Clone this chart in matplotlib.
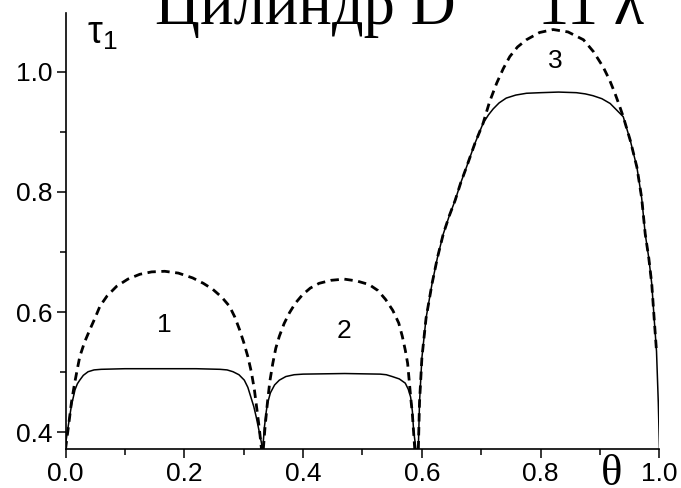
import matplotlib
matplotlib.use("Agg")
import matplotlib.pyplot as plt
from matplotlib.ticker import MultipleLocator

plt.rcParams['font.family'] = ['Liberation Sans', 'DejaVu Sans']

# dashed curves (theta, tau_1)
dash1_t = [0.0, 0.003, 0.006, 0.010, 0.015, 0.020, 0.024, 0.032, 0.041, 0.050,
           0.058, 0.070, 0.086, 0.105, 0.125, 0.145, 0.167, 0.190, 0.214, 0.232,
           0.248, 0.263, 0.276, 0.285, 0.293, 0.300, 0.307, 0.313, 0.318, 0.322,
           0.326, 0.330]
dash1_v = [0.372, 0.395, 0.418, 0.450, 0.480, 0.506, 0.526, 0.550, 0.571, 0.591,
           0.610, 0.627, 0.643, 0.655, 0.663, 0.667, 0.668, 0.665, 0.657, 0.648,
           0.638, 0.625, 0.610, 0.592, 0.571, 0.550, 0.526, 0.500, 0.471, 0.440,
           0.409, 0.372]

dash2_t = [0.333, 0.336, 0.340, 0.344, 0.349, 0.354, 0.360, 0.368, 0.377, 0.387,
           0.399, 0.412, 0.427, 0.447, 0.469, 0.490, 0.511, 0.526, 0.539, 0.551,
           0.561, 0.567, 0.572, 0.576, 0.578, 0.581, 0.584, 0.588]
dash2_v = [0.372, 0.410, 0.450, 0.485, 0.515, 0.540, 0.560, 0.581, 0.599, 0.615,
           0.629, 0.640, 0.648, 0.653, 0.655, 0.652, 0.646, 0.636, 0.621, 0.603,
           0.582, 0.560, 0.537, 0.515, 0.493, 0.460, 0.430, 0.372]

dash3_t = [0.594, 0.596, 0.600, 0.607, 0.617, 0.626, 0.636, 0.646, 0.656, 0.665,
           0.675, 0.689, 0.703, 0.714, 0.726, 0.737, 0.748, 0.761, 0.776, 0.798,
           0.821, 0.846, 0.872, 0.889, 0.905, 0.916, 0.925, 0.932, 0.939, 0.951,
           0.962, 0.970, 0.976, 0.982, 0.987, 0.991, 0.995]
dash3_v = [0.372, 0.450, 0.524, 0.590, 0.647, 0.690, 0.730, 0.760, 0.786, 0.814,
           0.841, 0.880, 0.914, 0.950, 0.981, 1.005, 1.025, 1.041, 1.053, 1.065,
           1.070, 1.066, 1.053, 1.033, 1.008, 0.986, 0.964, 0.945, 0.925, 0.885,
           0.841, 0.790, 0.730, 0.690, 0.647, 0.590, 0.535]

# solid curves
sol1_t = [0.0, 0.003, 0.006, 0.010, 0.016, 0.020, 0.024, 0.030, 0.038, 0.048,
          0.060, 0.100, 0.160, 0.220, 0.260, 0.272, 0.282, 0.292, 0.301, 0.307,
          0.312, 0.317, 0.321, 0.326, 0.332]
sol1_v = [0.380, 0.400, 0.420, 0.445, 0.471, 0.481, 0.487, 0.495, 0.501, 0.504,
          0.505, 0.506, 0.506, 0.506, 0.505, 0.504, 0.501, 0.496, 0.487, 0.475,
          0.459, 0.443, 0.426, 0.402, 0.372]

sol2_t = [0.332, 0.335, 0.338, 0.340, 0.345, 0.352, 0.360, 0.371, 0.385, 0.400,
          0.470, 0.530, 0.540, 0.550, 0.562, 0.572, 0.577, 0.581, 0.584, 0.586,
          0.590]
sol2_v = [0.372, 0.410, 0.435, 0.448, 0.466, 0.479, 0.487, 0.493, 0.496, 0.497,
          0.498, 0.497, 0.496, 0.493, 0.489, 0.482, 0.472, 0.459, 0.435, 0.404,
          0.372]

sol3_t = [0.594, 0.596, 0.600, 0.607, 0.617, 0.626, 0.636, 0.646, 0.656, 0.665,
          0.675, 0.689, 0.703, 0.712, 0.720, 0.730, 0.742, 0.758, 0.776, 0.800,
          0.830, 0.860, 0.875, 0.888, 0.903, 0.917, 0.926, 0.933, 0.939, 0.951,
          0.962, 0.970, 0.976, 0.982, 0.987, 0.991, 0.995, 0.998, 1.0]
sol3_v = [0.372, 0.450, 0.524, 0.590, 0.647, 0.690, 0.730, 0.760, 0.786, 0.814,
          0.841, 0.880, 0.914, 0.928, 0.938, 0.948, 0.956, 0.961, 0.964, 0.965,
          0.966, 0.965, 0.963, 0.960, 0.955, 0.947, 0.938, 0.931, 0.925, 0.885,
          0.841, 0.790, 0.730, 0.690, 0.647, 0.590, 0.535, 0.450, 0.372]

labels = ['1', '2', '3']
label_t = [0.167, 0.469, 0.824]
label_v = [0.579, 0.568, 1.017]

fig = plt.figure(figsize=(6.81, 4.88), dpi=100)
ax = fig.add_axes([0.0962, 0.0793, 0.8722, 0.8947])

for t, v in [(sol1_t, sol1_v), (sol2_t, sol2_v), (sol3_t, sol3_v)]:
    ax.plot(t, v, color='black', lw=1.1)
for t, v in [(dash1_t, dash1_v), (dash2_t, dash2_v), (dash3_t, dash3_v)]:
    ax.plot(t, v, color='black', lw=2.0, dashes=(3, 2))

for s, t, v in zip(labels, label_t, label_v):
    ax.text(t, v, s, ha='center', va='center', fontsize=19)

ax.set_xlim(0.0, 1.0)
ax.set_ylim(0.372, 1.098)
ax.xaxis.set_minor_locator(MultipleLocator(0.1))
ax.yaxis.set_minor_locator(MultipleLocator(0.1))
ax.set_xticks([0.0, 0.2, 0.4, 0.6, 0.8, 1.0])
ax.set_xticklabels(['0.0', '0.2', '0.4', '0.6', '0.8', '1.0'])
ax.set_yticks([0.4, 0.6, 0.8, 1.0])
ax.set_yticklabels(['0.4', '0.6', '0.8', '1.0'])

ax.spines['top'].set_visible(False)
ax.spines['right'].set_visible(False)
ax.spines['left'].set_linewidth(1.2)
ax.spines['bottom'].set_linewidth(1.2)
ax.tick_params(which='major', direction='out', length=6.5, width=1.1, labelsize=19, pad=3)
ax.tick_params(which='minor', direction='out', length=4, width=1.1)

ax.text(0.036, 1.092, r'$\mathregular{\tau_1}$', fontsize=27, va='top', ha='left')
fig.text(611.7 / 681, 1 - 474 / 488, 'θ', family='Liberation Serif', fontsize=32,
         ha='center', va='center')

fig.text(155 / 681, 1 - 24 / 488, 'Цилиндр D', family='Liberation Serif',
         fontsize=45, ha='left', va='baseline')
fig.text(538 / 681, 1 - 24 / 488, '11 λ', family='Liberation Serif',
         fontsize=45, ha='left', va='baseline')

fig.savefig('out.png', dpi=100)
